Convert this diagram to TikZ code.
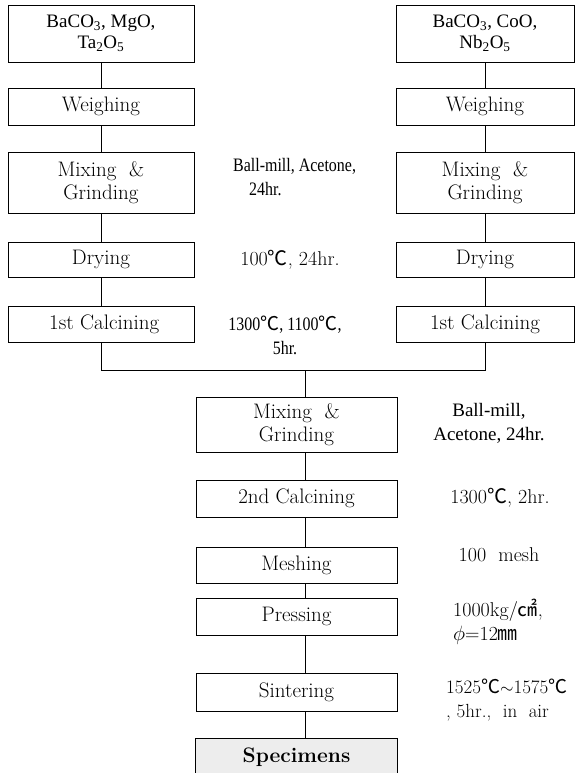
\documentclass[tikz,border=0pt]{standalone}
\usepackage{fontspec}
\newfontfamily\cjk{Noto Sans CJK KR}
\newfontfamily\tms{Liberation Serif}
\newfontfamily\tmn[FakeStretch=0.84]{Liberation Serif}
\newcommand{\dgc}{{\cjk ℃}}
\begin{document}
\begin{tikzpicture}[x=1pt,y=-1pt,
  box/.style={draw, line width=0.9pt, inner sep=0pt, align=center, font=\fontsize{21}{23}\selectfont},
  cbox/.style={box, font=\tms\fontsize{19}{21}\selectfont},
  note/.style={inner sep=0pt, align=center, font=\fontsize{20}{24}\selectfont},
  cnote/.style={note, font=\tmn\fontsize{19}{24}\selectfont},
  conn/.style={line width=0.9pt}]
\useasboundingbox (0,0) rectangle (579,773);
% left column
\node[cbox, minimum width=186, minimum height=57] (l1) at (101,33.5) {BaCO\textsubscript{3}, MgO,\\Ta\textsubscript{2}O\textsubscript{5}};
\node[box, minimum width=186, minimum height=37] (l2) at (101,106.5) {Weighing};
\node[box, minimum width=186, minimum height=61] (l3) at (101,182.5) {Mixing \ \&\\Grinding};
\node[box, minimum width=186, minimum height=35] (l4) at (101,259.5) {Drying};
\node[box, minimum width=186, minimum height=36] (l5) at (101,324) {\ 1st Calcining};
% right column
\node[cbox, minimum width=178, minimum height=57] (r1) at (485,33.5) {BaCO\textsubscript{3}, CoO,\\Nb\textsubscript{2}O\textsubscript{5}};
\node[box, minimum width=178, minimum height=37] (r2) at (485,106.5) {Weighing};
\node[box, minimum width=178, minimum height=61] (r3) at (485,182.5) {Mixing \ \&\\Grinding};
\node[box, minimum width=178, minimum height=35] (r4) at (485,259.5) {Drying};
\node[box, minimum width=178, minimum height=36] (r5) at (485,324) {1st Calcining};
% centre column
\node[box, minimum width=201, minimum height=55] (c1) at (296.5,424.5) {Mixing \ \&\\Grinding};
\node[box, minimum width=201, minimum height=37] (c2) at (296.5,498.5) {2nd Calcining};
\node[box, minimum width=201, minimum height=36] (c3) at (296.5,565) {Meshing};
\node[box, minimum width=201, minimum height=37] (c4) at (296.5,616.5) {Pressing};
\node[box, minimum width=201, minimum height=38] (c5) at (296.5,692) {Sintering};
\node[box, draw=none, fill=black!7, minimum width=201, minimum height=36, font=\bfseries\fontsize{21}{23}\selectfont] (c6) at (296.5,757) {Specimens};
\draw[conn] (c6.south west) -- (c6.north west) -- (c6.north east) -- (c6.south east);
% notes
\node[cnote, anchor=west, align=left] (n1) at (233,177) {Ball-mill, Acetone,\\\hspace*{16pt}24hr.};
\node[note] (n2) at (290,260) {100\dgc, 24hr.};
\node[cnote] (n3) at (285,335) {1300\dgc, 1100\dgc,\\5hr.};
\node[note, font=\tms\fontsize{19}{24}\selectfont] (n4) at (489,423) {Ball-mill,\\Acetone, 24hr.};
\node[note] (n5) at (500,498) {1300\dgc, 2hr.};
\node[note] (n6) at (499,555) {100 \ mesh};
\node[note, anchor=west, align=left] (n7) at (453,622) {1000kg/{\cjk ㎠},\\$\phi$=12{\cjk ㎜}};
\node[note, anchor=west, align=left, font=\fontsize{19}{24}\selectfont] (n8) at (446,700) {1525\dgc$\sim$1575\dgc\\, 5hr., \ in \ air};
% connectors
\draw[conn] (l1.south) -- (l2.north);
\draw[conn] (l2.south) -- (l3.north);
\draw[conn] (l3.south) -- (l4.north);
\draw[conn] (l4.south) -- (l5.north);
\draw[conn] (r1.south) -- (r2.north);
\draw[conn] (r2.south) -- (r3.north);
\draw[conn] (r3.south) -- (r4.north);
\draw[conn] (r4.south) -- (r5.north);
\coordinate (j) at (305,370);
\draw[conn] (l5.south) -- (l5.south |- j) -- (r5.south |- j) -- (r5.south);
\draw[conn] (j) -- (j |- c1.north);
\draw[conn] ([xshift=8.5pt]c1.south) -- ([xshift=8.5pt]c2.north);
\draw[conn] ([xshift=8.5pt]c2.south) -- ([xshift=8.5pt]c3.north);
\draw[conn] ([xshift=8.5pt]c3.south) -- ([xshift=8.5pt]c4.north);
\draw[conn] ([xshift=8.5pt]c4.south) -- ([xshift=8.5pt]c5.north);
\draw[conn] ([xshift=8.5pt]c5.south) -- ([xshift=8.5pt]c6.north);
\end{tikzpicture}
\end{document}
